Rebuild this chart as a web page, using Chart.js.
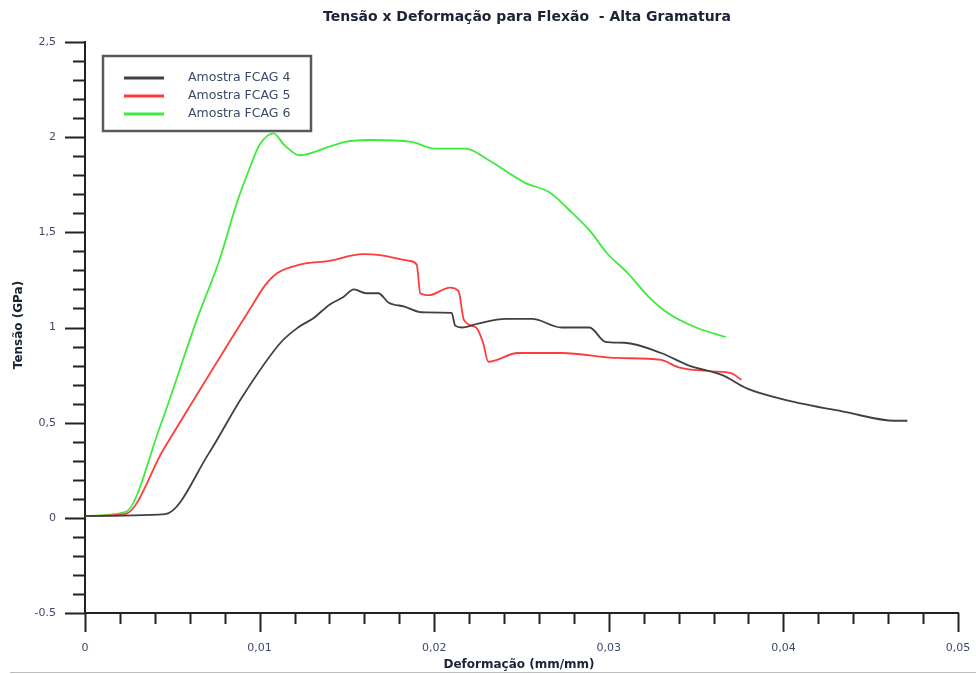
<!DOCTYPE html>
<html>
<head>
<meta charset="utf-8">
<title>Tensão x Deformação para Flexão - Alta Gramatura</title>
<script src="https://cdn.jsdelivr.net/npm/chart.js@4.4.0/dist/chart.umd.min.js"></script>
<style>
  html, body { margin: 0; padding: 0; background: #fff; }
  #wrap { position: relative; width: 976px; height: 674px; }
</style>
</head>
<body>
<div id="wrap"><canvas id="chart" width="976" height="674"></canvas></div>
<script>
// valores
const fcag4Strain = [0, 0.0046, 0.0071, 0.0090, 0.0112, 0.0122, 0.0131, 0.0140, 0.0148, 0.0154, 0.0161, 0.0168, 0.0174, 0.0183, 0.0193, 0.0210, 0.0212, 0.0216, 0.0225, 0.0241, 0.0256, 0.0273, 0.0289, 0.0298, 0.0309, 0.0330, 0.0346, 0.0365, 0.0379, 0.0401, 0.0435, 0.0464, 0.0471];
const fcag4Stress = [0.01, 0.02, 0.34, 0.635, 0.92, 1.0, 1.05, 1.12, 1.16, 1.2, 1.18, 1.18, 1.13, 1.11, 1.08, 1.077, 1.01, 1.0, 1.02, 1.045, 1.045, 1.0, 1.0, 0.925, 0.92, 0.866, 0.80, 0.75, 0.68, 0.62, 0.557, 0.51, 0.51];

const fcag5Strain = [0, 0.0023, 0.0045, 0.0096, 0.0103, 0.0110, 0.0123, 0.0140, 0.0159, 0.0169, 0.0186, 0.0190, 0.0192, 0.0197, 0.0209, 0.0214, 0.0217, 0.0224, 0.0228, 0.0231, 0.0248, 0.0273, 0.0305, 0.0330, 0.0340, 0.0359, 0.0370, 0.0376];
const fcag5Stress = [0.01, 0.02, 0.36, 1.12, 1.22, 1.285, 1.33, 1.35, 1.385, 1.38, 1.35, 1.33, 1.18, 1.17, 1.21, 1.19, 1.04, 1.0, 0.92, 0.82, 0.866, 0.866, 0.84, 0.83, 0.79, 0.77, 0.76, 0.725];

const fcag6Strain = [0, 0.0023, 0.0043, 0.0064, 0.0077, 0.0087, 0.0094, 0.0100, 0.0108, 0.0114, 0.0123, 0.0140, 0.0149, 0.0163, 0.0187, 0.0200, 0.0218, 0.0231, 0.0252, 0.0266, 0.0277, 0.0289, 0.0299, 0.0311, 0.0323, 0.0334, 0.0350, 0.0367];
const fcag6Stress = [0.01, 0.03, 0.48, 1.04, 1.355, 1.655, 1.83, 1.96, 2.02, 1.96, 1.905, 1.95, 1.975, 1.985, 1.975, 1.94, 1.94, 1.88, 1.76, 1.71, 1.62, 1.51, 1.39, 1.285, 1.16, 1.075, 1.0, 0.95];

const seriesNames = ["Amostra FCAG 4", "Amostra FCAG 5", "Amostra FCAG 6"];
const seriesColors = ["#404040", "#ff3b3b", "#3cec3c"];
const xTickValues = [0, 0.01, 0.02, 0.03, 0.04, 0.05];
const yTickValues = [-0.5, 0, 0.5, 1, 1.5, 2, 2.5];

const toPoints = (xs, ys) => xs.map((x, i) => ({ x: x, y: ys[i] }));

const labelColor = "#3c4968";
const fmt = v => {
  if (v === -0.5) return "-0.5";
  return String(Number(v.toFixed(3))).replace(".", ",");
};

// ticks menores, títulos e legenda desenhados à mão
const decorPlugin = {
  id: "decor",
  afterDraw(chart) {
    const ctx = chart.ctx;
    const xs = chart.scales.x, ys = chart.scales.y;
    const area = chart.chartArea;
    ctx.save();
    ctx.strokeStyle = "#222";
    ctx.lineWidth = 2;
    // ticks do eixo y
    for (let i = 0; i <= 30; i++) {
      const v = -0.5 + i * 0.1;
      const py = Math.round(ys.getPixelForValue(v)) + 0.5;
      const len = i % 5 === 0 ? 20 : 12;
      ctx.beginPath();
      ctx.moveTo(area.left - len, py);
      ctx.lineTo(area.left, py);
      ctx.stroke();
    }
    // ticks do eixo x
    for (let i = 0; i <= 25; i++) {
      const v = i * 0.002;
      const px = Math.round(xs.getPixelForValue(v)) + 0.5;
      const len = i % 5 === 0 ? 19 : 11;
      ctx.beginPath();
      ctx.moveTo(px, area.bottom);
      ctx.lineTo(px, area.bottom + len);
      ctx.stroke();
    }

    // título
    ctx.fillStyle = "#1c2238";
    ctx.textAlign = "center";
    ctx.textBaseline = "middle";
    ctx.font = "bold 14px 'DejaVu Sans', sans-serif";
    ctx.fillText("Tensão x Deformação para Flexão  - Alta Gramatura", 527, 17);

    // títulos dos eixos
    ctx.font = "bold 12px 'DejaVu Sans', sans-serif";
    ctx.fillText("Deformação (mm/mm)", 519, 665);
    ctx.save();
    ctx.translate(19, 325);
    ctx.rotate(-Math.PI / 2);
    ctx.fillText("Tensão (GPa)", 0, 0);
    ctx.restore();

    // legenda
    const lx = 103, ly = 56, lw = 208, lh = 75;
    ctx.fillStyle = "#fff";
    ctx.fillRect(lx, ly, lw, lh);
    ctx.strokeStyle = "#5a5a5a";
    ctx.lineWidth = 2.5;
    ctx.strokeRect(lx, ly, lw, lh);
    ctx.font = "12.5px 'DejaVu Sans', sans-serif";
    ctx.textAlign = "left";
    chart.data.datasets.forEach((ds, i) => {
      const y = 78 + i * 18;
      ctx.strokeStyle = ds.borderColor;
      ctx.lineWidth = 3;
      ctx.beginPath();
      ctx.moveTo(124, y);
      ctx.lineTo(164, y);
      ctx.stroke();
      ctx.fillStyle = labelColor;
      ctx.fillText(ds.label, 188, y);
    });

    // linha cinza no rodapé
    ctx.strokeStyle = "#bdbdbd";
    ctx.lineWidth = 1;
    ctx.beginPath();
    ctx.moveTo(10, 672.5);
    ctx.lineTo(976, 672.5);
    ctx.stroke();
    ctx.restore();
  }
};

const datasets = [
  toPoints(fcag4Strain, fcag4Stress),
  toPoints(fcag5Strain, fcag5Stress),
  toPoints(fcag6Strain, fcag6Stress)
].map((pts, i) => ({
  label: seriesNames[i],
  data: pts,
  borderColor: seriesColors[i],
  borderWidth: 1.8,
  pointRadius: 0,
  cubicInterpolationMode: "monotone",
  fill: false
}));

new Chart(document.getElementById("chart"), {
  type: "line",
  data: { datasets: datasets },
  options: {
    responsive: false,
    animation: false,
    devicePixelRatio: 1,
    layout: { padding: { top: 42, right: 18, left: 0, bottom: 0 } },
    plugins: {
      legend: { display: false },
      title: { display: false },
      tooltip: { enabled: false }
    },
    scales: {
      x: {
        type: "linear",
        min: 0,
        max: 0.05,
        afterFit: s => { s.height = 61; s.paddingLeft = 0; s.paddingRight = 0; },
        afterBuildTicks: s => { s.ticks = xTickValues.map(v => ({ value: v })); },
        grid: { display: false },
        border: { display: true, color: "#222", width: 2 },
        ticks: {
          padding: 21,
          color: labelColor,
          font: { family: "'DejaVu Sans', sans-serif", size: 11 },
          maxRotation: 0,
          callback: v => fmt(v)
        }
      },
      y: {
        type: "linear",
        min: -0.5,
        max: 2.5,
        afterFit: s => { s.width = 85; },
        afterBuildTicks: s => { s.ticks = yTickValues.map(v => ({ value: v })); },
        grid: { display: false },
        border: { display: true, color: "#222", width: 2 },
        ticks: {
          padding: 21,
          color: labelColor,
          font: { family: "'DejaVu Sans', sans-serif", size: 11 },
          callback: v => fmt(v)
        }
      }
    }
  },
  plugins: [decorPlugin]
});
</script>
</body>
</html>
